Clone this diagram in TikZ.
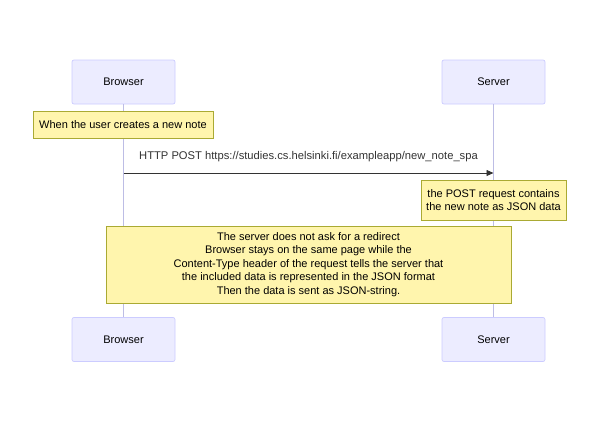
\documentclass[tikz,border=0pt]{standalone}
\usepackage{fontspec}
\setmainfont{Liberation Sans}
\usetikzlibrary{arrows.meta}
\definecolor{actfill}{HTML}{ECECFF}
\definecolor{actline}{HTML}{CCCCFF}
\definecolor{notefill}{HTML}{FFF5AD}
\definecolor{noteline}{HTML}{AAAA33}
\definecolor{msgline}{HTML}{333333}
\tikzset{
  actor/.style={draw=actline, fill=actfill, rounded corners=2pt, minimum width=103pt, minimum height=44pt, inner sep=0pt, font=\fontsize{11}{13}\selectfont, line width=0.7pt},
  notebox/.style={draw=noteline, fill=notefill, inner sep=0pt, align=center, font=\fontsize{11}{13.4}\selectfont, line width=0.7pt},
  life/.style={draw=actline!80!gray, line width=0.6pt},
  msg/.style={draw=msgline, line width=0.8pt, -{Triangle[length=7pt,width=6pt]}}
}
\begin{document}
\begin{tikzpicture}[x=1pt,y=-1pt]
\useasboundingbox (0,0) rectangle (600,423);
\node[actor] (bt) at (123.5,82) {Browser};
\node[actor] (st) at (493.5,82) {Server};
\node[actor] (bb) at (123.5,339.5) {Browser};
\node[actor] (sb) at (493.5,339.5) {Server};
\draw[life] (bt.south) -- (bb.north);
\draw[life] (st.south) -- (sb.north);
\node[notebox, minimum width=180pt, minimum height=27pt] (n1) at (123,124.5) {When the user creates a new note};
\coordinate (a1) at (bt.south |- 0,173);
\coordinate (a2) at (st.south |- 0,173);
\draw[msg] (a1) -- node[above=7pt, font=\fontsize{11.2}{13}\selectfont, text=msgline] {HTTP POST https://studies.cs.helsinki.fi/exampleapp/new\_note\_spa} (a2);
\node[notebox, minimum width=145pt, minimum height=40pt] (n2) at (493.5,200) {the POST request contains\\the new note as JSON data};
\node[notebox, minimum width=405pt, minimum height=77pt] (n3) at (308.5,264.5) {The server does not ask for a redirect\\Browser stays on the same page while the\\Content-Type header of the request tells the server that\\the included data is represented in the JSON format\\Then the data is sent as JSON-string.};
\end{tikzpicture}
\end{document}
